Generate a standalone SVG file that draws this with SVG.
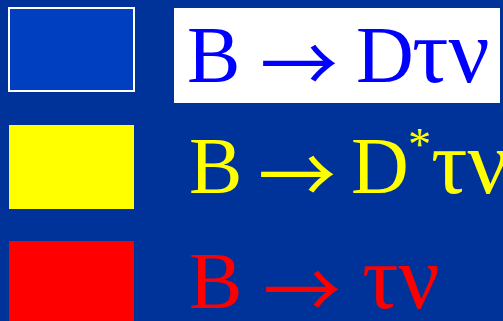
<svg xmlns="http://www.w3.org/2000/svg" width="503" height="321" viewBox="0 0 503 321">
<style>
.t{font-family:"Liberation Serif","Times New Roman",serif;font-size:80px}
.s{font-family:"Liberation Serif","Times New Roman",serif;font-size:46px}
.g{font-family:"Liberation Serif","DejaVu Serif",serif;font-size:91px}
.a{font-family:"Noto Sans CJK JP","DejaVu Sans",sans-serif;font-size:78px;font-weight:400}
</style>
<rect width="503" height="321" fill="#003399"/>
<g id="legend-dtaunu">
<rect x="9" y="8" width="125" height="83" fill="#0040C0" stroke="#FFFFFF" stroke-width="2"/>
<rect x="174" y="8" width="326" height="95" fill="#FFFFFF"/>
<g fill="#0000FF">
<text class="t" x="187" y="82">B</text>
<text class="a" x="260" y="93">→</text>
<text class="t" x="356" y="82">D</text>
<text class="g" x="412" y="82">τν</text>
</g>
</g>
<g id="legend-dstartaunu">
<rect x="9" y="125" width="125" height="84" fill="#FFFF00"/>
<g fill="#FFFF00">
<text class="t" x="189" y="193">B</text>
<text class="a" x="258" y="204">→</text>
<text class="t" x="351" y="193">D</text>
<text class="s" x="408" y="160">*</text>
<text class="g" x="431" y="193">τν</text>
</g>
</g>
<g id="legend-taunu">
<rect x="9" y="241" width="125" height="80" fill="#FF0000"/>
<g fill="#FF0000">
<text class="t" x="189" y="308">B</text>
<text class="a" x="263" y="319">→</text>
<text class="g" x="362" y="308">τν</text>
</g>
</g>
</svg>
